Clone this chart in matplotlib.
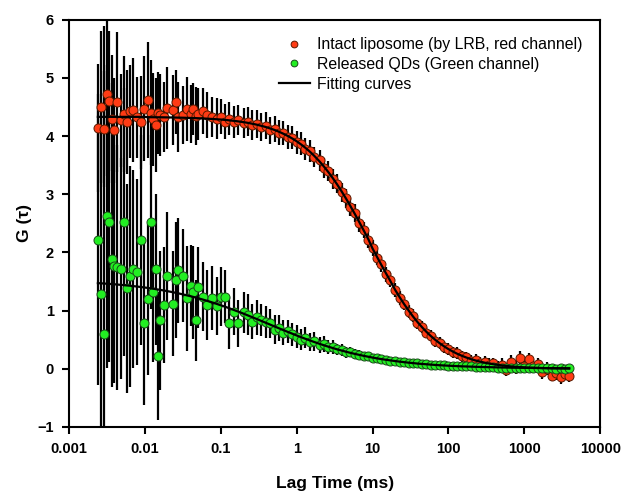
import numpy as np
import matplotlib
matplotlib.use("Agg")
import matplotlib.pyplot as plt

plt.rcParams['font.family'] = ['Liberation Sans', 'DejaVu Sans']

# lag times (ms), shared by both channels
lag = [0.0024, 0.0026, 0.0029, 0.0032, 0.0034, 0.0037, 0.0039, 0.0043,
       0.0048, 0.0053, 0.0058, 0.0064, 0.0070, 0.0079, 0.0089, 0.0097,
       0.011, 0.012, 0.0128, 0.014, 0.0149, 0.0158, 0.0179, 0.0196, 0.0235,
       0.026, 0.0274, 0.032, 0.036, 0.0405, 0.043, 0.047, 0.050, 0.058,
       0.066, 0.077, 0.088,
       0.1, 0.115, 0.13, 0.15, 0.17, 0.2, 0.23, 0.26, 0.3, 0.34, 0.39,
       0.45, 0.51, 0.58, 0.67, 0.77, 0.88,
       1.0, 1.15, 1.3, 1.5, 1.7, 2.0, 2.3, 2.6, 3.0, 3.4, 3.9,
       4.5, 5.1, 5.8, 6.7, 7.7, 8.8,
       10, 11.5, 13, 15, 17, 20, 23, 26, 30, 34, 39, 45, 51, 58, 67, 77, 88,
       100, 115, 130, 150, 170, 200, 230, 260, 300, 340, 390, 450, 510,
       580, 670, 770, 880,
       1000, 1150, 1300, 1500, 1700, 2000, 2300, 2600, 3000, 3400, 3900]

# red channel (intact liposome)
red_g = [4.14, 4.50, 4.12, 4.72, 4.60, 4.30, 4.10, 4.59, 4.27, 4.38, 4.24,
         4.43, 4.45, 4.32, 4.24, 4.47,
         4.62, 4.40, 4.29, 4.19, 4.40, 4.36, 4.33, 4.48, 4.45, 4.59, 4.33,
         4.36, 4.47, 4.38, 4.47, 4.34, 4.38, 4.43, 4.36, 4.33, 4.30,
         4.33, 4.25, 4.30, 4.24, 4.28, 4.22, 4.25, 4.19, 4.21, 4.15, 4.18,
         4.10, 4.12, 4.06, 4.05, 3.98, 3.97,
         3.89, 3.87, 3.78, 3.74, 3.64, 3.58, 3.45, 3.40, 3.26, 3.18, 3.03,
         2.93, 2.78, 2.68, 2.50, 2.38, 2.21,
         2.08, 1.91, 1.80, 1.62, 1.52, 1.36, 1.21, 1.12, 0.98, 0.91, 0.79,
         0.72, 0.62, 0.57, 0.48, 0.44, 0.37,
         0.34, 0.28, 0.27, 0.21, 0.20, 0.14, 0.15, 0.10, 0.11, 0.06, 0.09,
         0.03, 0.07, -0.02, 0.12, 0.02, 0.18,
         0.05, 0.16, 0.05, 0.08, -0.06, 0.00, -0.12, -0.08, -0.15, -0.09, -0.12]
red_err = [1.1, 1.3, 1.0, 1.4, 1.2, 1.1, 0.9, 1.2, 0.8, 1.0, 0.9, 0.8, 0.9,
           0.7, 0.8, 0.9,
           1.0, 0.9, 0.8, 0.8, 0.7, 0.7, 0.6, 0.7, 0.6, 0.55, 0.6, 0.5, 0.55,
           0.5, 0.45, 0.5, 0.45, 0.4, 0.4, 0.35, 0.35,
           0.3, 0.3, 0.28, 0.28, 0.26, 0.26, 0.25, 0.25, 0.24, 0.24, 0.23,
           0.23, 0.22, 0.22, 0.21, 0.21, 0.2,
           0.2, 0.2, 0.19, 0.19, 0.18, 0.18, 0.17, 0.17, 0.17, 0.16, 0.16,
           0.16, 0.15, 0.15, 0.15, 0.14, 0.14,
           0.14, 0.13, 0.13, 0.13, 0.12, 0.12, 0.12, 0.11, 0.11, 0.11, 0.1,
           0.1, 0.1, 0.1, 0.1, 0.1, 0.1,
           0.1, 0.09, 0.11, 0.1, 0.09, 0.1, 0.11, 0.1, 0.1, 0.12, 0.1, 0.11,
           0.12, 0.1, 0.12, 0.11, 0.12,
           0.12, 0.11, 0.12, 0.1, 0.12, 0.11, 0.1, 0.12, 0.11, 0.1, 0.11]
red_fit = [4.33] * 16 + [
    4.325, 4.324, 4.324, 4.323, 4.323, 4.323, 4.322, 4.321, 4.319, 4.318,
    4.317, 4.315, 4.313, 4.311, 4.310, 4.308, 4.307, 4.303, 4.299, 4.294, 4.289,
    4.284, 4.277, 4.270, 4.261, 4.252, 4.239, 4.226, 4.212, 4.195, 4.177,
    4.156, 4.130, 4.105, 4.076, 4.039, 3.999, 3.956,
    3.910, 3.853, 3.799, 3.729, 3.661, 3.564, 3.471, 3.384, 3.274, 3.171,
    3.051, 2.918, 2.796, 2.667, 2.517, 2.369, 2.225,
    2.065, 1.917, 1.788, 1.641, 1.516, 1.347, 1.219, 1.112, 0.996, 0.900,
    0.803, 0.711, 0.636, 0.566, 0.496, 0.435, 0.382,
    0.336, 0.292, 0.257, 0.222, 0.194, 0.162, 0.139, 0.122, 0.103, 0.089,
    0.076, 0.064, 0.055, 0.046, 0.039, 0.033, 0.027,
    0.023, 0.019, 0.016, 0.014, 0.011, 0.009, 0.007, 0.006, 0.005, 0.004, 0.003]

# green channel (released QDs)
green_g = [2.22, 1.29, 0.60, 2.62, 2.52, 1.88, 1.76, 1.74, 1.72, 2.52, 1.38,
           1.59, 1.72, 1.66, 2.21, 0.78,
           1.19, 2.52, 1.31, 1.71, 0.22, 0.83, 1.10, 1.59, 1.12, 1.52, 1.69,
           1.60, 1.21, 1.43, 1.31, 0.83, 1.40, 1.24, 1.10, 1.22, 1.08,
           1.24, 1.24, 0.79, 0.98, 0.78, 0.97, 0.93, 0.81, 0.88, 0.84, 0.80,
           0.78, 0.67, 0.70, 0.62, 0.64, 0.59,
           0.55, 0.50, 0.53, 0.46, 0.47, 0.41, 0.42, 0.37, 0.37, 0.33, 0.32,
           0.28, 0.29, 0.25, 0.24, 0.22, 0.21,
           0.19, 0.18, 0.16, 0.15, 0.14, 0.13, 0.12, 0.11, 0.10, 0.10, 0.09,
           0.08, 0.08, 0.07, 0.07, 0.06, 0.06,
           0.05, 0.05, 0.05, 0.04, 0.04, 0.04, 0.03, 0.03, 0.03, 0.03, 0.03,
           0.02, 0.02, 0.02, 0.02, 0.02, 0.02,
           0.02, 0.01, 0.02, 0.01, 0.01, 0.01, 0.01, 0.00, 0.01, 0.00, 0.01]
green_err = [2.5, 2.8, 5.3, 2.6, 2.4, 2.2, 2.0, 2.1, 1.9, 2.3, 1.8, 1.9, 1.7,
             1.6, 1.8, 1.4,
             1.3, 1.5, 1.2, 1.3, 1.1, 1.2, 1.0, 1.1, 0.9, 1.0, 0.9, 0.8, 0.9,
             0.7, 0.8, 0.7, 0.7, 0.6, 0.6, 0.55, 0.5,
             0.5, 0.45, 0.45, 0.4, 0.4, 0.35, 0.35, 0.3, 0.3, 0.28, 0.28,
             0.25, 0.25, 0.22, 0.22, 0.2, 0.2,
             0.2, 0.18, 0.18, 0.16, 0.16, 0.14, 0.14, 0.12, 0.12, 0.1, 0.1,
             0.09, 0.09, 0.08, 0.08, 0.07, 0.07,
             0.06, 0.06, 0.05, 0.05, 0.05, 0.05, 0.04, 0.04, 0.04, 0.04, 0.04,
             0.03, 0.03, 0.03, 0.03, 0.03, 0.03] + [0.03] * 28
green_fit = [1.471, 1.468, 1.464, 1.460, 1.458, 1.454, 1.452, 1.447, 1.441,
             1.436, 1.431, 1.426, 1.420, 1.412, 1.404, 1.397,
             1.388, 1.380, 1.375, 1.367, 1.361, 1.356, 1.343, 1.334, 1.314,
             1.302, 1.296, 1.276, 1.260, 1.244, 1.235, 1.222, 1.212, 1.188,
             1.166, 1.139, 1.115,
             1.090, 1.063, 1.038, 1.007, 0.981, 0.945, 0.913, 0.885, 0.852,
             0.822, 0.790, 0.756, 0.726, 0.696, 0.662, 0.630, 0.600,
             0.571, 0.540, 0.514, 0.484, 0.459, 0.427, 0.401, 0.379, 0.354,
             0.333, 0.312, 0.290, 0.272, 0.255, 0.237, 0.220, 0.205,
             0.191, 0.177, 0.165, 0.153, 0.143, 0.130, 0.120, 0.112, 0.103,
             0.096, 0.088, 0.081, 0.076, 0.070, 0.064, 0.059, 0.055,
             0.051, 0.047, 0.044, 0.040, 0.038, 0.035, 0.032, 0.030, 0.028,
             0.026, 0.024, 0.022, 0.020, 0.019, 0.017, 0.016, 0.015,
             0.014, 0.013, 0.012, 0.011, 0.010, 0.009, 0.008, 0.008, 0.007,
             0.007, 0.006]

fig = plt.figure(figsize=(6.22, 4.94), dpi=100)
ax = fig.add_axes([0.111, 0.136, 0.854, 0.824])

# error bars first, then points, then fits on top
ax.errorbar(lag, red_g, yerr=red_err, fmt='none', ecolor='black',
            elinewidth=1.6, capsize=0, zorder=1)
ax.errorbar(lag, green_g, yerr=green_err, fmt='none', ecolor='black',
            elinewidth=1.6, capsize=0, zorder=1)
ax.plot(lag, red_g, 'o', color='#ff3b14', markeredgecolor='#5a1a00',
        markeredgewidth=0.7, markersize=6.5, zorder=2,
        label='Intact liposome (by LRB, red channel)')
ax.plot(lag, green_g, 'o', color='#22ee22', markeredgecolor='#1a4a1a',
        markeredgewidth=0.7, markersize=6.5, zorder=3,
        label='Released QDs (Green channel)')
ax.plot(lag, red_fit, '-', color='black', lw=1.6, zorder=4,
        label='Fitting curves')
ax.plot(lag, green_fit, '-', color='black', lw=1.6, zorder=4)

ax.set_xscale('log')
ax.set_xlim(0.001, 10000)
ax.set_ylim(-1, 6)
ax.set_xticks([0.001, 0.01, 0.1, 1, 10, 100, 1000, 10000])
ax.set_xticklabels(['0.001', '0.01', '0.1', '1', '10', '100', '1000', '10000'])
ax.minorticks_off()
ax.set_yticks(range(-1, 7))

for s in ax.spines.values():
    s.set_linewidth(1.5)
ax.tick_params(direction='out', length=5, width=1.5, labelsize=10.5, pad=6)
for lbl in ax.get_xticklabels() + ax.get_yticklabels():
    lbl.set_fontweight('bold')

ax.set_xlabel('Lag Time (ms)', fontsize=12.5, fontweight='bold', labelpad=14)
ax.set_ylabel('G (\u03c4)', fontsize=12.5, fontweight='bold', labelpad=4)

leg = ax.legend(loc='upper right', frameon=False, fontsize=11.4,
                handlelength=2.0, handletextpad=0.45, markerscale=0.75,
                borderaxespad=0.5, borderpad=0.6, labelspacing=0.3)

fig.savefig('out.png', dpi=100)
